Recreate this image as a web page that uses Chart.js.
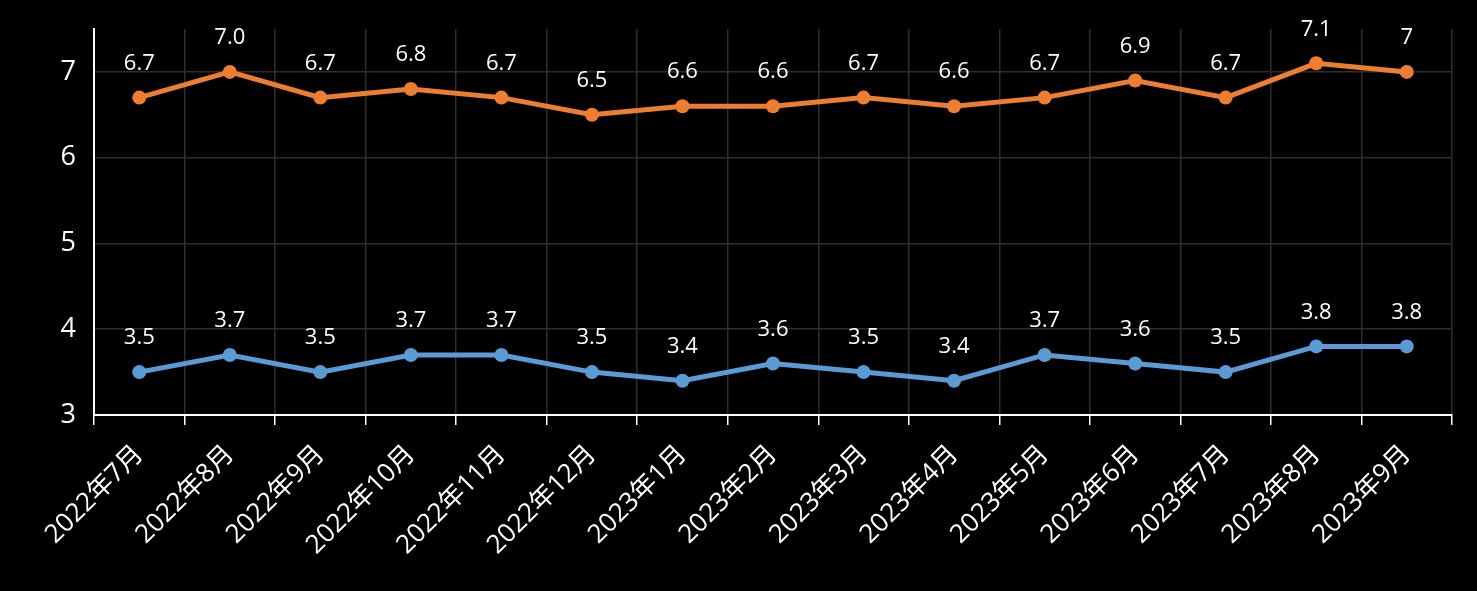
<!DOCTYPE html>
<html>
<head>
<meta charset="utf-8">
<script src="https://cdn.jsdelivr.net/npm/chart.js@4"></script>
<style>
  html, body { margin: 0; padding: 0; background: #000; }
  #wrap { width: 1477px; height: 591px; }
</style>
</head>
<body>
<div id="wrap"><canvas id="chart"></canvas></div>
<script>
// Months on the x axis
const months = ['2022年7月', '2022年8月', '2022年9月', '2022年10月', '2022年11月', '2022年12月',
    '2023年1月', '2023年2月', '2023年3月', '2023年4月', '2023年5月', '2023年6月',
    '2023年7月', '2023年8月', '2023年9月'];

// Upper (orange) series and the labels as printed
const upperValues = [6.7, 7.0, 6.7, 6.8, 6.7, 6.5, 6.6, 6.6, 6.7, 6.6, 6.7, 6.9, 6.7, 7.1, 7.0];
const upperLabels = ['6.7', '7.0', '6.7', '6.8', '6.7', '6.5', '6.6', '6.6', '6.7', '6.6', '6.7', '6.9', '6.7', '7.1', '7'];

// Lower (blue) series
const lowerValues = [3.5, 3.7, 3.5, 3.7, 3.7, 3.5, 3.4, 3.6, 3.5, 3.4, 3.7, 3.6, 3.5, 3.8, 3.8];
const lowerLabels = ['3.5', '3.7', '3.5', '3.7', '3.7', '3.5', '3.4', '3.6', '3.5', '3.4', '3.7', '3.6', '3.5', '3.8', '3.8'];

// Y axis range
const yMin = 3;
const yMax = 7.5;

const FONT = '"Open Sans", "Noto Sans CJK SC", sans-serif';

// Small plugin to write the value above each point
const pointLabels = {
    id: 'pointLabels',
    afterDatasetsDraw(chart) {
        const ctx = chart.ctx;
        ctx.save();
        ctx.font = '22px ' + FONT;
        ctx.fillStyle = '#ffffff';
        ctx.textAlign = 'center';
        ctx.textBaseline = 'middle';
        chart.data.datasets.forEach((ds, i) => {
            const meta = chart.getDatasetMeta(i);
            meta.data.forEach((pt, j) => {
                ctx.fillText(ds.pointText[j], pt.x, pt.y - 34);
            });
        });
        ctx.restore();
    }
};

new Chart(document.getElementById('chart'), {
    type: 'line',
    data: {
        labels: months,
        datasets: [{
            label: 'upper',
            data: upperValues,
            pointText: upperLabels,
            borderColor: '#ED7D31',
            backgroundColor: '#ED7D31',
            borderWidth: 5,
            pointRadius: 7,
            pointBorderWidth: 0,
            tension: 0
        }, {
            label: 'lower',
            data: lowerValues,
            pointText: lowerLabels,
            borderColor: '#5B9BD5',
            backgroundColor: '#5B9BD5',
            borderWidth: 5,
            pointRadius: 7,
            pointBorderWidth: 0,
            tension: 0
        }]
    },
    options: {
        responsive: true,
        maintainAspectRatio: false,
        animation: false,
        layout: {
            padding: { top: 29, right: 25, left: 0, bottom: 0 }
        },
        plugins: {
            legend: { display: false },
            tooltip: { enabled: false }
        },
        scales: {
            x: {
                offset: true,
                grid: {
                    offset: true,
                    color: '#2e2e2e',
                    lineWidth: 1.5,
                    tickColor: '#ffffff',
                    tickLength: 10,
                    drawTicks: true
                },
                border: { color: '#ffffff', width: 2 },
                ticks: {
                    color: '#ffffff',
                    font: { size: 26, family: FONT },
                    minRotation: 45,
                    maxRotation: 45,
                    autoSkip: false,
                    padding: 14
                },
                afterFit(scale) { scale.height = 176; }
            },
            y: {
                min: yMin,
                max: yMax,
                ticks: {
                    stepSize: 1,
                    color: '#ffffff',
                    font: { size: 27, family: FONT },
                    padding: 18
                },
                grid: {
                    color: '#2e2e2e',
                    lineWidth: 1.5,
                    drawTicks: false
                },
                border: { color: '#ffffff', width: 2 },
                afterBuildTicks(scale) {
                    scale.ticks = scale.ticks.filter(t => Number.isInteger(t.value));
                },
                afterFit(scale) {
                    scale.width = 94;
                    scale.paddingTop = 0;
                    scale.paddingBottom = 0;
                }
            }
        }
    },
    plugins: [pointLabels]
});
</script>
</body>
</html>
